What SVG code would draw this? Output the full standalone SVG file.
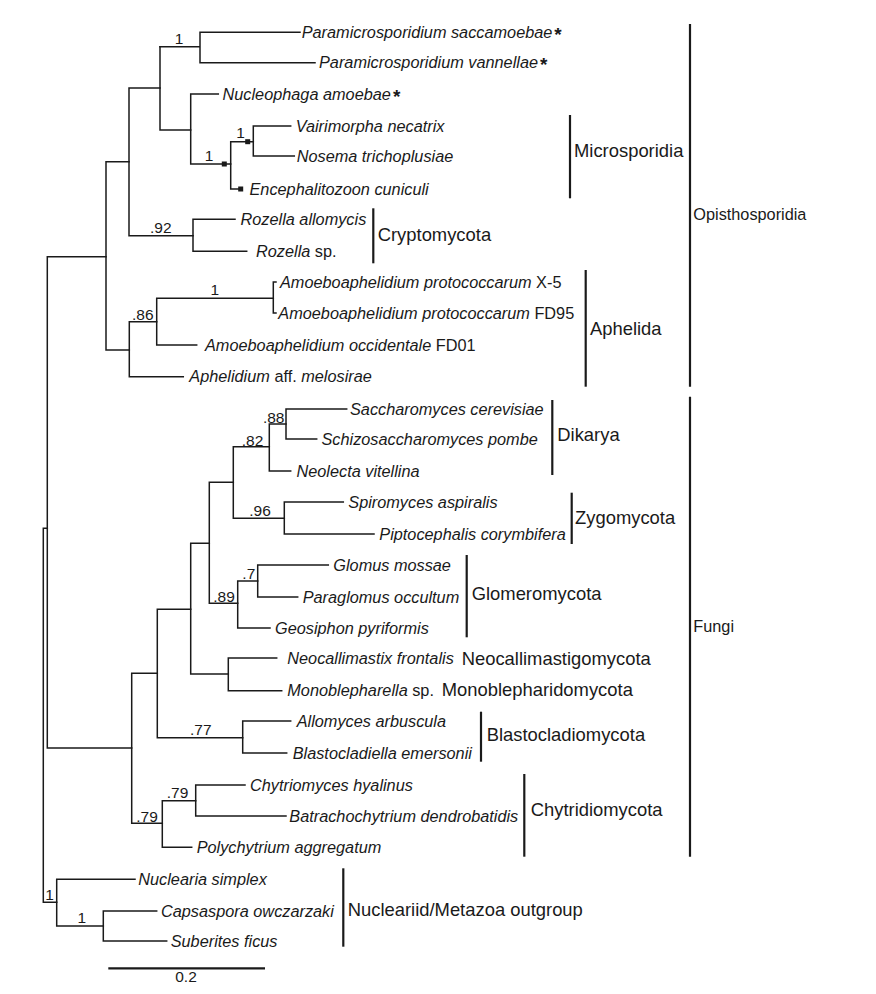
<svg xmlns="http://www.w3.org/2000/svg" width="876" height="994" viewBox="0 0 876 994">
<style>
.br{fill:none;stroke:#1a1a1a;stroke-width:1.5;stroke-linecap:square}
.bar{stroke:#1a1a1a;stroke-width:2.2}
.tx{font-family:"Liberation Sans",Arial,sans-serif;font-size:16.3px;font-style:italic;fill:#1a1a1a}
.up{font-style:normal}
.st{font-style:normal;font-weight:bold;font-size:19px}
.cl{font-family:"Liberation Sans",Arial,sans-serif;font-size:18.4px;fill:#1a1a1a}
.big{font-family:"Liberation Sans",Arial,sans-serif;font-size:16.3px;fill:#1a1a1a}
.sup{font-family:"Liberation Sans",Arial,sans-serif;font-size:15.5px;fill:#1a1a1a;text-anchor:middle}
</style>
<rect width="876" height="994" fill="#ffffff"/>
<g id="connectors" class="br">
<path d="M200,32.3V62.7M200,32.3H300M200,62.7H315M160,46.7H200"/>
<path d="M160,46.7V130M160,130H190.7"/>
<path d="M190.7,94V164M190.7,94H218.3M190.7,164H230.7"/>
<path d="M230.7,141.7V189M230.7,141.7H253.3M230.7,189H240.7"/>
<path d="M253.3,126V156M253.3,126H290.7M253.3,156H294.3"/>
<path d="M129,88V235.7M129,88H160M129,235.7H193"/>
<path d="M193,219.3V251.3M193,219.3H235M193,251.3H246.7"/>
<path d="M106,161.7V350M106,161.7H129M106,350H129.3"/>
<path d="M129.3,321.7V376.7M129.3,321.7H156.7M129.3,376.7H183.3"/>
<path d="M156.7,298.3V345M156.7,298.3H273.3M156.7,345H196.7"/>
<path d="M273.3,282V313M273.3,282H276M273.3,313H276"/>
<path d="M47.3,256.7V748M47.3,256.7H106M47.3,748H131.7"/>
<path d="M43.3,528.3V902.3M43.3,528.3H47.3M43.3,902.3H56.7"/>
<path d="M56.7,879.3V926M56.7,879.3H135M56.7,926H103.3"/>
<path d="M103.3,911V941M103.3,911H156.7M103.3,941H166.7"/>
<path d="M131.7,673.3V823.3M131.7,673.3H157.3M131.7,823.3H162.3"/>
<path d="M157.3,609.3V737.7M157.3,609.3H190.7M157.3,737.7H242.7"/>
<path d="M242.7,721V753M242.7,721H290.7M242.7,753H286.7"/>
<path d="M190.7,543.3V674M190.7,543.3H209.3M190.7,674H228.3"/>
<path d="M228.3,658V690.7M228.3,658H276.7M228.3,690.7H281.7"/>
<path d="M209.3,482.3V603.3M209.3,482.3H233.3M209.3,603.3H237.7"/>
<path d="M233.3,446.7V518.3M233.3,446.7H269.3M233.3,518.3H284.3"/>
<path d="M269.3,424V471M269.3,424H286M269.3,471H290.7"/>
<path d="M286,409V439M286,409H346.7M286,439H316.7"/>
<path d="M284.3,502V534M284.3,502H343.3M284.3,534H374"/>
<path d="M237.7,581V628M237.7,581H257.7M237.7,628H270"/>
<path d="M257.7,565V597M257.7,565H328.3M257.7,597H297.7"/>
<path d="M162.3,800.7V847.3M162.3,800.7H195.7M162.3,847.3H191.7"/>
<path d="M195.7,785V816M195.7,785H245M195.7,816H286"/>
<rect x="221.8" y="161.5" width="5" height="5" fill="#1a1a1a" stroke="none"/>
<rect x="245.2" y="139.2" width="5" height="5" fill="#1a1a1a" stroke="none"/>
<rect x="238.2" y="186.5" width="5" height="5" fill="#1a1a1a" stroke="none"/>
</g>
<g id="support">
<text class="sup" x="179" y="44">1</text>
<text class="sup" x="209" y="161">1</text>
<text class="sup" x="240.5" y="137.5">1</text>
<text class="sup" x="160.8" y="233">.92</text>
<text class="sup" x="142.8" y="320">.86</text>
<text class="sup" x="214.8" y="295">1</text>
<text class="sup" x="273.7" y="422.5">.88</text>
<text class="sup" x="252.5" y="445.5">.82</text>
<text class="sup" x="260" y="516">.96</text>
<text class="sup" x="248.8" y="579">.7</text>
<text class="sup" x="224" y="601.5">.89</text>
<text class="sup" x="200.8" y="735">.77</text>
<text class="sup" x="177.5" y="798">.79</text>
<text class="sup" x="147" y="821.5">.79</text>
<text class="sup" x="49.5" y="900">1</text>
<text class="sup" x="81.7" y="923">1</text>
</g>
<g id="t1"><text class="tx" x="301.7" y="37.8">Paramicrosporidium saccamoebae<tspan class="st" dx="2" dy="3">*</tspan></text></g>
<g id="t2"><text class="tx" x="319" y="68.2">Paramicrosporidium vannellae<tspan class="st" dx="2" dy="3">*</tspan></text></g>
<g id="t3"><text class="tx" x="222.5" y="99.5">Nucleophaga amoebae<tspan class="st" dx="2" dy="3">*</tspan></text></g>
<g id="t4"><text class="tx" x="295.7" y="131.5">Vairimorpha necatrix</text></g>
<g id="t5"><text class="tx" x="296.7" y="161.5">Nosema trichoplusiae</text></g>
<g id="t6"><text class="tx" x="249.5" y="194.5">Encephalitozoon cuniculi</text></g>
<g id="t7"><text class="tx" x="240.5" y="224.8">Rozella allomycis</text></g>
<g id="t8"><text class="tx" x="256" y="256.8">Rozella<tspan class="up"> sp.</tspan></text></g>
<g id="t9"><text class="tx" x="280" y="287.5">Amoeboaphelidium protococcarum<tspan class="up"> X-5</tspan></text></g>
<g id="t10"><text class="tx" x="278.3" y="318.5">Amoeboaphelidium protococcarum<tspan class="up"> FD95</tspan></text></g>
<g id="t11"><text class="tx" x="205" y="350.5">Amoeboaphelidium occidentale<tspan class="up"> FD01</tspan></text></g>
<g id="t12"><text class="tx" x="189.3" y="382.2">Aphelidium<tspan class="up"> aff. </tspan>melosirae</text></g>
<g id="t13"><text class="tx" x="350" y="414.5">Saccharomyces cerevisiae</text></g>
<g id="t14"><text class="tx" x="321.5" y="444.5">Schizosaccharomyces pombe</text></g>
<g id="t15"><text class="tx" x="296.5" y="476.5">Neolecta vitellina</text></g>
<g id="t16"><text class="tx" x="348.3" y="507.5">Spiromyces aspiralis</text></g>
<g id="t17"><text class="tx" x="379.3" y="539.5">Piptocephalis corymbifera</text></g>
<g id="t18"><text class="tx" x="333.3" y="570.5">Glomus mossae</text></g>
<g id="t19"><text class="tx" x="302.7" y="602.5">Paraglomus occultum</text></g>
<g id="t20"><text class="tx" x="275" y="633.5">Geosiphon pyriformis</text></g>
<g id="t21"><text class="tx" x="287.3" y="663.5">Neocallimastix frontalis</text></g>
<g id="t22"><text class="tx" x="287.3" y="696.2">Monoblepharella<tspan class="up"> sp.</tspan></text></g>
<g id="t23"><text class="tx" x="296.7" y="726.5">Allomyces arbuscula</text></g>
<g id="t24"><text class="tx" x="292.7" y="758.5">Blastocladiella emersonii</text></g>
<g id="t25"><text class="tx" x="250" y="790.5">Chytriomyces hyalinus</text></g>
<g id="t26"><text class="tx" x="289.3" y="821.5">Batrachochytrium dendrobatidis</text></g>
<g id="t27"><text class="tx" x="196.7" y="852.8">Polychytrium aggregatum</text></g>
<g id="t28"><text class="tx" x="138.3" y="884.8">Nuclearia simplex</text></g>
<g id="t29"><text class="tx" x="161" y="916.5">Capsaspora owczarzaki</text></g>
<g id="t30"><text class="tx" x="170.7" y="946.5">Suberites ficus</text></g>
<g id="c-microsporidia"><line class="bar" x1="570" y1="115" x2="570" y2="198.3"/><text class="cl" x="574" y="157">Microsporidia</text></g>
<g id="c-cryptomycota"><line class="bar" x1="373.3" y1="208.3" x2="373.3" y2="263.3"/><text class="cl" x="377.7" y="241">Cryptomycota</text></g>
<g id="c-aphelida"><line class="bar" x1="585.7" y1="270" x2="585.7" y2="386.7"/><text class="cl" x="590" y="334.5">Aphelida</text></g>
<g id="c-dikarya"><line class="bar" x1="552.3" y1="400" x2="552.3" y2="475"/><text class="cl" x="557.3" y="440.7">Dikarya</text></g>
<g id="c-zygomycota"><line class="bar" x1="571.7" y1="492.7" x2="571.7" y2="544"/><text class="cl" x="575" y="523.8">Zygomycota</text></g>
<g id="c-glomeromycota"><line class="bar" x1="466.7" y1="555" x2="466.7" y2="637.3"/><text class="cl" x="471.7" y="600">Glomeromycota</text></g>
<g id="c-neocallimastigomycota"><text class="cl" x="461.7" y="665">Neocallimastigomycota</text></g>
<g id="c-monoblepharidomycota"><text class="cl" x="441.7" y="696">Monoblepharidomycota</text></g>
<g id="c-blastocladiomycota"><line class="bar" x1="481" y1="711.7" x2="481" y2="761.7"/><text class="cl" x="486.7" y="740.7">Blastocladiomycota</text></g>
<g id="c-chytridiomycota"><line class="bar" x1="524.3" y1="774" x2="524.3" y2="856.7"/><text class="cl" x="530.7" y="815.7">Chytridiomycota</text></g>
<g id="c-outgroup"><line class="bar" x1="343.3" y1="868.3" x2="343.3" y2="946.7"/><text class="cl" x="347.7" y="915.7">Nucleariid/Metazoa outgroup</text></g>
<g id="c-opisthosporidia"><line class="bar" x1="690" y1="24" x2="690" y2="386.7"/><text class="big" x="693.3" y="220">Opisthosporidia</text></g>
<g id="c-fungi"><line class="bar" x1="690" y1="396.7" x2="690" y2="856.7"/><text class="big" x="693.3" y="631.7">Fungi</text></g>
<g id="scale"><line class="bar" x1="108.3" y1="968.3" x2="265" y2="968.3"/><text class="sup" x="186" y="982">0.2</text></g>
</svg>
